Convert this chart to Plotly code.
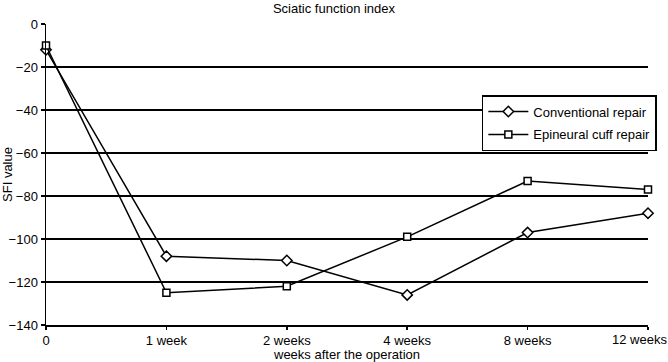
import plotly.graph_objects as go

categories = ["0", "1 week", "2 weeks", "4 weeks", "8 weeks", "12 weeks"]
conventional = [-12, -108, -110, -126, -97, -88]
epineural = [-10, -125, -122, -99, -73, -77]
y_ticks = [0, -20, -40, -60, -80, -100, -120, -140]
y_tick_text = ["0", "−20", "−40", "−60", "−80", "−100", "−120", "−140"]

xpos = list(range(len(categories)))
FONT = "Liberation Sans, Arial, sans-serif"

fig = go.Figure()
fig.add_trace(go.Scatter(
    x=xpos, y=conventional, name="Conventional repair", mode="lines+markers",
    line=dict(color="black", width=1.5),
    marker=dict(symbol="diamond", size=8, color="white", line=dict(color="black", width=1.5)),
    cliponaxis=False, legendgroup="a"))
fig.add_trace(go.Scatter(
    x=xpos, y=epineural, name="Epineural cuff repair", mode="lines+markers",
    line=dict(color="black", width=1.5),
    marker=dict(symbol="square", size=7, color="white", line=dict(color="black", width=1.5)),
    cliponaxis=False, legendgroup="b"))

# last tick label drawn as an annotation nudged left so it stays inside the page
tick_text = categories[:-1] + [""]
fig.add_annotation(x=xpos[-1], y=0, xref="x", yref="paper", text=categories[-1],
                   showarrow=False, xanchor="right", yanchor="top", xshift=21, yshift=-5,
                   font=dict(size=13, family=FONT, color="black"))

fig.update_layout(
    width=668, height=362,
    margin=dict(l=46, r=20, t=24, b=37, autoexpand=False),
    paper_bgcolor="white", plot_bgcolor="white",
    font=dict(family=FONT, size=13, color="black"),
    title=dict(text="Sciatic function index", x=0.5, xref="container", y=0.99, yref="container",
               xanchor="center", yanchor="top", font=dict(size=13)),
    legend=dict(x=0.724, y=0.764, xanchor="left", yanchor="top",
                bordercolor="black", borderwidth=1.5, bgcolor="white",
                tracegroupgap=3, itemwidth=40, font=dict(size=13)),
    showlegend=True,
)
fig.update_xaxes(
    range=[0, 5], tickmode="array", tickvals=xpos, ticktext=tick_text,
    automargin=False, ticklabeloverflow="allow",
    showline=True, linecolor="black", linewidth=1.5,
    ticks="outside", ticklen=3, tickcolor="black", tickwidth=1.5,
    showgrid=False, zeroline=False, tickfont=dict(size=13),
    title=dict(text="weeks after the operation", font=dict(size=13)),
)
fig.update_yaxes(
    range=[-140, 0], tickmode="array", tickvals=y_ticks, ticktext=y_tick_text,
    automargin=False, ticklabeloverflow="allow",
    showline=True, linecolor="black", linewidth=1.5,
    ticks="outside", ticklen=4, tickcolor="black", tickwidth=1.5,
    showgrid=True, gridcolor="black", gridwidth=1.5, zeroline=False, tickfont=dict(size=13),
    title=dict(text="SFI value", font=dict(size=13)),
)

fig.write_html("out.html", config={"displayModeBar": False, "staticPlot": True},
               post_script="document.body.style.margin='0px';document.body.style.overflow='hidden';")
